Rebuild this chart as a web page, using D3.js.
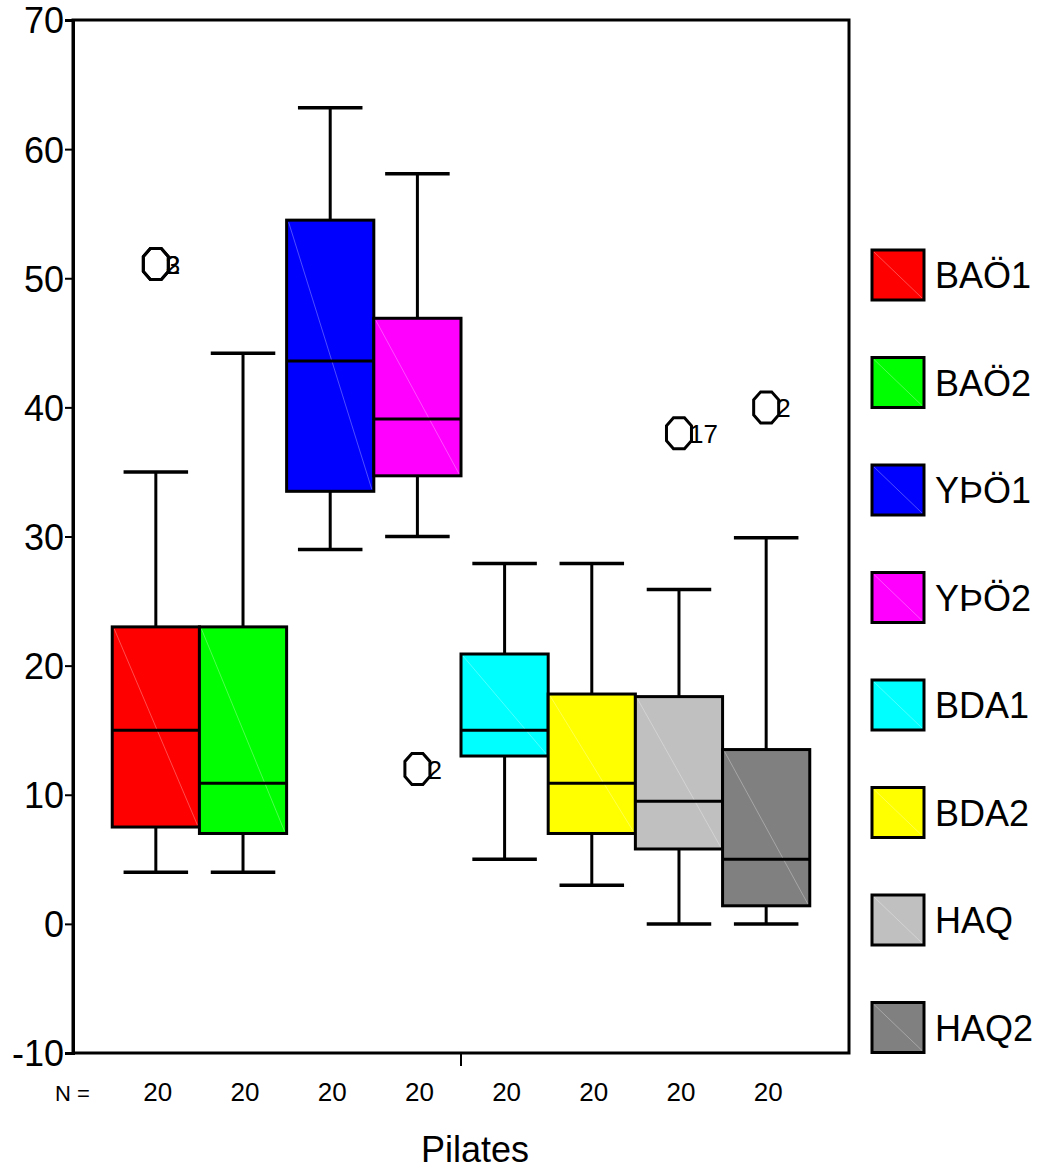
<!DOCTYPE html>
<html>
<head>
<meta charset="utf-8">
<script src="https://cdn.jsdelivr.net/npm/d3@7"></script>
<style>
  body { margin: 0; background: #fff; }
  text { font-family: "Liberation Sans", Arial, sans-serif; fill: #000; }
</style>
</head>
<body>
<svg id="chart" width="1056" height="1172"></svg>
<script>
// data
const category = "Pilates";
const series = ["BAÖ1", "BAÖ2", "YÞÖ1", "YÞÖ2", "BDA1", "BDA2", "HAQ", "HAQ2"];
const whiskerLow = [4, 4, 29, 30, 5, 3, 0, 0];
const q1 = [7.5, 7, 33.5, 34.7, 13, 7, 5.8, 1.4];
const median = [15, 10.9, 43.6, 39.1, 15, 10.9, 9.5, 5];
const q3 = [23, 23, 54.5, 46.9, 20.9, 17.8, 17.6, 13.5];
const whiskerHigh = [35, 44.2, 63.2, 58.1, 27.9, 27.9, 25.9, 29.9];
const counts = [20, 20, 20, 20, 20, 20, 20, 20];
const outliers = [
  { series: "BAÖ1", value: 51.1, label: "3" },
  { series: "BAÖ1", value: 51.1, label: "2" },
  { series: "YÞÖ2", value: 12, label: "2" },
  { series: "HAQ", value: 38, label: "17" },
  { series: "HAQ2", value: 40, label: "2" }
];
const yTicks = [-10, 0, 10, 20, 30, 40, 50, 60, 70];
const colors = ["#ff0000", "#00ff00", "#0000ff", "#ff00ff", "#00ffff", "#ffff00", "#c0c0c0", "#808080"];

const svg = d3.select("#chart");
const plotLeft = 73, plotRight = 849, plotTop = 20, plotBottom = 1053;

const y = d3.scaleLinear().domain([-10, 70]).range([plotBottom, plotTop]);
const x0 = d3.scaleBand().domain([category]).range([plotLeft, plotRight]);
const x1 = d3.scaleBand().domain(series).range([plotLeft, plotRight]).paddingInner(0).paddingOuter(0.45);
const color = d3.scaleOrdinal().domain(series).range(colors);

const boxes = series.map((s, i) => ({
  name: s, lo: whiskerLow[i], q1: q1[i], med: median[i], q3: q3[i], hi: whiskerHigh[i], n: counts[i]
}));

const bw = x1.bandwidth();
const capW = bw * 0.74;

// frame
svg.append("rect")
  .attr("x", plotLeft).attr("y", plotTop)
  .attr("width", plotRight - plotLeft).attr("height", plotBottom - plotTop)
  .attr("fill", "none").attr("stroke", "#000").attr("stroke-width", 3);

// y axis
const yAxis = svg.append("g")
  .attr("transform", `translate(${plotLeft},0)`)
  .call(d3.axisLeft(y).tickValues(yTicks).tickSize(8).tickPadding(1).tickFormat(d => String(d)));
yAxis.select(".domain").attr("stroke-width", 3);
yAxis.selectAll(".tick line").attr("stroke-width", 2);
yAxis.selectAll(".tick text").attr("font-size", 36).attr("dy", "0.36em")
  .style("font-family", "'Liberation Sans', Arial, sans-serif");

// x axis (single category tick)
const xAxis = svg.append("g")
  .attr("transform", `translate(0,${plotBottom})`)
  .call(d3.axisBottom(x0).tickSize(13).tickFormat(""));
xAxis.select(".domain").remove();
xAxis.selectAll(".tick line").attr("stroke-width", 2);

// boxes
const g = svg.append("g").selectAll("g").data(boxes).join("g")
  .attr("transform", d => `translate(${x1(d.name)},0)`);

g.append("line")
  .attr("x1", bw / 2).attr("x2", bw / 2)
  .attr("y1", d => y(d.hi)).attr("y2", d => y(d.lo))
  .attr("stroke", "#000").attr("stroke-width", 3);

g.selectAll(".cap").data(d => [d.lo, d.hi]).join("line")
  .attr("x1", (bw - capW) / 2).attr("x2", (bw + capW) / 2)
  .attr("y1", v => y(v)).attr("y2", v => y(v))
  .attr("stroke", "#000").attr("stroke-width", 3.5);

g.append("rect")
  .attr("x", 0).attr("width", bw)
  .attr("y", d => y(d.q3)).attr("height", d => y(d.q1) - y(d.q3))
  .attr("fill", d => color(d.name))
  .attr("stroke", "#000").attr("stroke-width", 3);

g.append("line")
  .attr("x1", 2).attr("x2", bw - 2)
  .attr("y1", d => y(d.q3) + 2).attr("y2", d => y(d.q1) - 2)
  .attr("stroke", "#fff").attr("stroke-opacity", 0.3).attr("stroke-width", 1);

g.append("line")
  .attr("x1", 0).attr("x2", bw)
  .attr("y1", d => y(d.med)).attr("y2", d => y(d.med))
  .attr("stroke", "#000").attr("stroke-width", 3);

// outliers
const octagon = (cx, cy) => {
  const rx = 12.5, ry = 15.5, kx = 5.5, ky = 7.5;
  return d3.line()([
    [cx - kx, cy - ry], [cx + kx, cy - ry], [cx + rx, cy - ky], [cx + rx, cy + ky],
    [cx + kx, cy + ry], [cx - kx, cy + ry], [cx - rx, cy + ky], [cx - rx, cy - ky]
  ]) + "Z";
};
const o = svg.append("g").selectAll("g").data(outliers).join("g");
o.append("path")
  .attr("d", d => octagon(x1(d.series) + bw / 2, y(d.value)))
  .attr("fill", "none").attr("stroke", "#000").attr("stroke-width", 3);
o.append("text")
  .attr("x", d => x1(d.series) + bw / 2 + 10)
  .attr("y", d => y(d.value) + 10)
  .attr("font-size", 26)
  .text(d => d.label);

// N counts
svg.append("text").attr("x", 55).attr("y", 1101).attr("font-size", 22).text("N =");
svg.append("g").selectAll("text").data(boxes).join("text")
  .attr("x", d => x1(d.name) + bw / 2 + 2)
  .attr("y", 1101)
  .attr("text-anchor", "middle")
  .attr("font-size", 26)
  .text(d => d.n);

// x title
svg.append("text")
  .attr("x", 475).attr("y", 1162)
  .attr("text-anchor", "middle")
  .attr("font-size", 36)
  .text(category);

// legend
const leg = svg.append("g").selectAll("g").data(series).join("g")
  .attr("transform", (d, i) => `translate(872,${250 + i * 107.5})`);
leg.append("rect")
  .attr("width", 52).attr("height", 50)
  .attr("fill", d => color(d))
  .attr("stroke", "#000").attr("stroke-width", 3);
leg.append("line")
  .attr("x1", 2).attr("y1", 2).attr("x2", 50).attr("y2", 48)
  .attr("stroke", "#fff").attr("stroke-opacity", 0.3).attr("stroke-width", 1);
leg.append("text")
  .attr("x", 63).attr("y", 38)
  .attr("font-size", 36)
  .text(d => d);
</script>
</body>
</html>
